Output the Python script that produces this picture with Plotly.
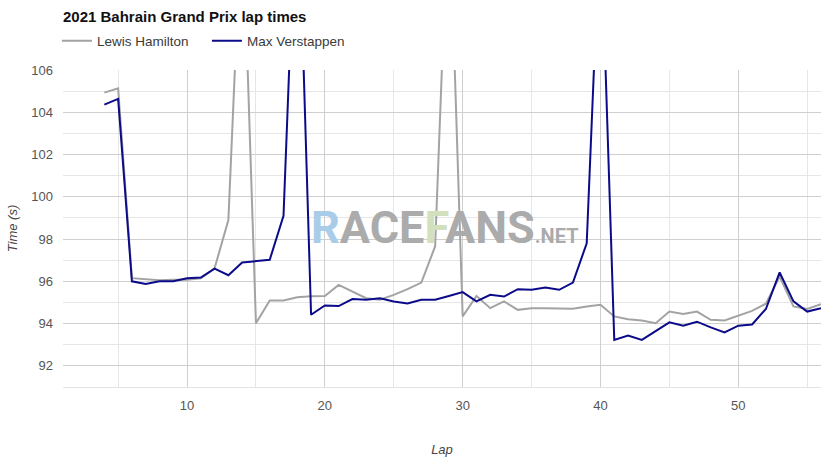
import plotly.graph_objects as go

laps = list(range(4, 57))

hamilton = [104.93, 105.13, 96.15, 96.10, 96.05, 96.08, 96.08, 96.15, 96.62, 98.90,
            114.0, 94.02, 95.09, 95.09, 95.25, 95.30, 95.31, 95.83, 95.52, 95.20,
            95.13, 95.36, 95.63, 95.94, 97.65, 114.7, 94.34, 95.31, 94.73, 95.05,
            94.65, 94.73, 94.73, 94.73, 94.70, 94.81, 94.89, 94.34, 94.21, 94.15,
            94.02, 94.57, 94.46, 94.57, 94.18, 94.15, 94.37, 94.60, 94.94, 96.23,
            94.81, 94.69, 94.92]

verstappen = [104.36, 104.63, 96.00, 95.88, 96.00, 96.00, 96.15, 96.18, 96.60, 96.29,
              96.89, 96.94, 97.02, 99.10, 116.0, 94.42, 94.86, 94.83, 95.16, 95.13,
              95.20, 95.05, 94.95, 95.13, 95.13, 95.31, 95.49, 95.05, 95.36, 95.28,
              95.63, 95.60, 95.71, 95.60, 95.94, 97.80, 113.5, 93.23, 93.44, 93.23,
              93.63, 94.06, 93.90, 94.09, 93.82, 93.58, 93.90, 93.96, 94.69, 96.42,
              95.05, 94.57, 94.73]

series_names = ["Lewis Hamilton", "Max Verstappen"]
series_colors = ["#a3a3a3", "#0b0b8a"]

FONT = "Liberation Sans, Arial, sans-serif"

fig = go.Figure()
for name, vals, col in zip(series_names, [hamilton, verstappen], series_colors):
    fig.add_trace(go.Scatter(
        x=laps, y=vals, mode="lines", name=name,
        line=dict(color=col, width=2),
        hovertemplate="Lap %{x}: %{y:.3f}s<extra>" + name + "</extra>",
    ))

fig.update_layout(
    width=833, height=464,
    margin=dict(l=63, r=12, t=70, b=77, autoexpand=False),
    paper_bgcolor="white", plot_bgcolor="white",
    font=dict(family=FONT, color="#555555", size=13),
    title=dict(
        text="<b>2021 Bahrain Grand Prix lap times</b>",
        x=0, xref="paper", xanchor="left",
        y=1 - 17 / 464, yref="container", yanchor="middle",
        font=dict(family=FONT, size=15, color="#111111"),
    ),
    showlegend=True,
    legend=dict(
        orientation="h", x=-0.008, xanchor="left",
        y=1.0914, yanchor="middle",
        font=dict(family=FONT, size=13.5, color="#3a3a3a"),
        bgcolor="rgba(0,0,0,0)",
        traceorder="normal",
        entrywidth=105, entrywidthmode="pixels",
    ),
    xaxis=dict(
        range=[1, 56], automargin=False,
        tick0=0, dtick=10,
        showgrid=True, gridcolor="#cfcfcf", gridwidth=1,
        minor=dict(tick0=0, dtick=5, showgrid=True, gridcolor="#e6e6e6", gridwidth=1),
        zeroline=False, showline=True, linecolor="#e3e3e3", linewidth=1,
        ticks="", ticklabelstandoff=6,
        tickfont=dict(size=13, color="#555555"),
        title=dict(text="<i>Lap</i>", standoff=33,
                   font=dict(size=13, color="#444444")),
    ),
    yaxis=dict(
        range=[91, 106], automargin=False,
        tick0=0, dtick=2,
        showgrid=True, gridcolor="#cfcfcf", gridwidth=1,
        minor=dict(tick0=0, dtick=1, showgrid=True, gridcolor="#e6e6e6", gridwidth=1),
        zeroline=False, showline=False,
        ticks="", ticklabelstandoff=9,
        tickfont=dict(size=13, color="#555555"),
        title=dict(text="<i>Time (s)</i>", standoff=10,
                   font=dict(size=13, color="#444444")),
    ),
)

fig.add_annotation(
    xref="paper", yref="paper", x=0.5045, y=0.502,
    xanchor="center", yanchor="middle", showarrow=False, opacity=1,
    font=dict(family="Roboto, Liberation Sans, sans-serif", size=45, color="#ababab"),
    text=("<b><span style='color:#a9cde8'>R</span>ACE"
          "<span style='color:#d3e0bd'>F</span>ANS"
          "<span style='font-size:20px'>.NET</span></b>"),
)

fig.write_html(
    "out.html",
    config={"displayModeBar": False},
    post_script="document.body.style.margin='0';document.body.style.overflow='hidden';",
)
